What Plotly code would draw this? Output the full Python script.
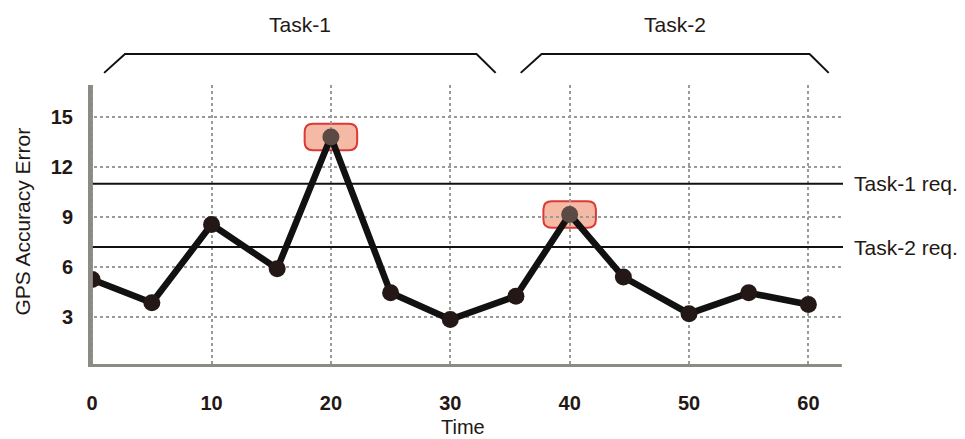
import plotly.graph_objects as go

# ---- data ----
time = [0, 5, 10, 15.5, 20, 25, 30, 35.5, 40, 44.5, 50, 55, 60]
gps_error = [5.25, 3.85, 8.55, 5.9, 13.8, 4.45, 2.85, 4.25, 9.15, 5.4, 3.2, 4.45, 3.75]
highlight_idx = [4, 8]
req_names = ["Task-1 req.", "Task-2 req."]
req_values = [11.0, 7.2]
task_names = ["Task-1", "Task-2"]
task_spans = [(1.0, 33.8), (35.9, 61.7)]
x_ticks = [0, 10, 20, 30, 40, 50, 60]
y_ticks = [3, 6, 9, 12, 15]

FONT = "Liberation Sans, Arial, Helvetica, sans-serif"
DARK = "#231815"
AXIS_GRAY = "#8b8b84"
GRID = "#9a9a9a"

XR = [-0.35, 62.9]
YR = [0, 16.92]

fig = go.Figure()

marker_colors = ["#5b4a43" if i in highlight_idx else DARK for i in range(len(time))]
fig.add_trace(go.Scatter(
    x=time, y=gps_error, mode="lines+markers",
    line=dict(color="#111111", width=6.5),
    marker=dict(size=17, color=marker_colors),
    showlegend=False, hoverinfo="x+y"))

shapes = []
# requirement lines
for v in req_values:
    shapes.append(dict(type="line", xref="paper", x0=0, x1=1, yref="y", y0=v, y1=v,
                       line=dict(color="#111111", width=2), layer="above"))

# highlight rounded boxes around peaks
hw, hh = 2.2, 0.8
rx, ry = 0.7, 0.5
for i in highlight_idx:
    cx, cy = time[i], gps_error[i]
    x0, x1, y0, y1 = cx - hw, cx + hw, cy - hh, cy + hh
    path = (f"M {x0+rx},{y0} L {x1-rx},{y0} Q {x1},{y0} {x1},{y0+ry} "
            f"L {x1},{y1-ry} Q {x1},{y1} {x1-rx},{y1} L {x0+rx},{y1} "
            f"Q {x0},{y1} {x0},{y1-ry} L {x0},{y0+ry} Q {x0},{y0} {x0+rx},{y0} Z")
    shapes.append(dict(type="path", path=path, xref="x", yref="y",
                       fillcolor="#f4baa6", line=dict(color="#dc3a36", width=2),
                       layer="below"))

# axis lines (gray thick)
shapes.append(dict(type="line", xref="x", yref="y", x0=-0.15, x1=-0.15, y0=-0.05, y1=YR[1],
                   line=dict(color=AXIS_GRAY, width=5), layer="above"))
shapes.append(dict(type="line", xref="x", yref="y", x0=-0.3, x1=XR[1] - 0.1, y0=0, y1=0,
                   line=dict(color=AXIS_GRAY, width=6), layer="above"))

# task brackets above plot
yb0, yb1 = 1.043, 1.11
for (a, b) in task_spans:
    shapes.append(dict(type="path", xref="x", yref="paper",
                       path=f"M {a},{yb0} L {a+1.75},{yb1} L {b-1.6},{yb1} L {b},{yb0}",
                       line=dict(color="#111111", width=2)))

annotations = []
for name, v in zip(req_names, req_values):
    annotations.append(dict(text=name, xref="paper", x=1.012, xanchor="left",
                            yref="y", y=v, yanchor="middle", showarrow=False,
                            font=dict(family=FONT, size=21, color=DARK)))
for name, (a, b) in zip(task_names, task_spans):
    annotations.append(dict(text=name, xref="x", x=(a + b) / 2, xanchor="center",
                            yref="paper", y=1.213, yanchor="middle", showarrow=False,
                            font=dict(family=FONT, size=21, color=DARK)))
annotations.append(dict(text="GPS Accuracy Error", textangle=-90, xref="paper", x=-0.088,
                        xanchor="center", yref="paper", y=0.514, yanchor="middle",
                        showarrow=False, font=dict(family=FONT, size=21, color=DARK)))
annotations.append(dict(text="Time", xref="paper", x=0.497, xanchor="center",
                        yref="paper", y=-0.212, yanchor="middle", showarrow=False,
                        font=dict(family=FONT, size=20, color=DARK)))

# page body has an 8px margin: shrink figure and margins accordingly
fig.update_layout(
    width=957, height=431,
    margin=dict(l=80, r=122, t=77, b=72),
    paper_bgcolor="white", plot_bgcolor="white",
    shapes=shapes, annotations=annotations,
    xaxis=dict(range=XR, tickvals=x_ticks, ticktext=[str(t) for t in x_ticks],
               showgrid=True, gridcolor=GRID, gridwidth=1.5, griddash="3px,3px",
               zeroline=False, showline=False, ticks="", ticklabelstandoff=22,
               tickfont=dict(family=FONT, size=20, color=DARK, weight="bold")),
    yaxis=dict(range=YR, tickvals=y_ticks, ticktext=[str(t) for t in y_ticks],
               showgrid=True, gridcolor=GRID, gridwidth=1.5, griddash="3px,3px",
               zeroline=False, showline=False, ticks="", ticklabelstandoff=14,
               tickfont=dict(family=FONT, size=20, color=DARK, weight="bold")),
)

fig.write_html("out.html")
